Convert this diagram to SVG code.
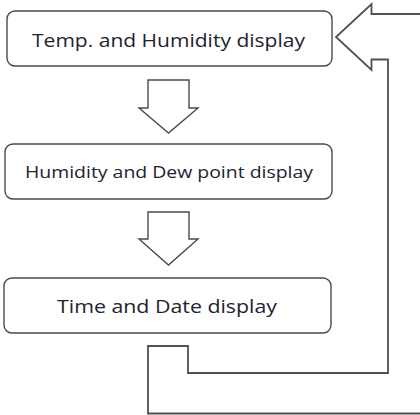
<svg xmlns="http://www.w3.org/2000/svg" width="420" height="415" viewBox="0 0 420 415">
<style>
.box{fill:#fff;stroke:#4a4a4a;stroke-width:1.4}
.lbl{font-family:"Open Sans","Liberation Sans",sans-serif;fill:#1e2230;text-anchor:middle}
.arr{fill:#fff;stroke:#4a4a4a;stroke-width:1.4;stroke-linejoin:miter}
.conn{fill:none;stroke:#505050;stroke-width:1.8}
</style>
<rect width="420" height="415" fill="#fff"/>
<g id="node-temp">
<rect class="box" x="7" y="11" width="325" height="55" rx="8"/>
<text class="lbl" x="168.5" y="47" font-size="19" textLength="273" lengthAdjust="spacingAndGlyphs">Temp. and Humidity display</text>
</g>
<g id="node-dew">
<rect class="box" x="5" y="144" width="327" height="55" rx="8"/>
<text class="lbl" x="169" y="178" font-size="16" textLength="288" lengthAdjust="spacingAndGlyphs">Humidity and Dew point display</text>
</g>
<g id="node-time">
<rect class="box" x="4" y="278" width="327" height="55" rx="8"/>
<text class="lbl" x="167" y="313" font-size="18" textLength="220" lengthAdjust="spacingAndGlyphs">Time and Date display</text>
</g>
<g id="connectors">
<path class="arr" d="M148 80 H189 V108 H198 L168.5 133 L139 108 H148 Z"/>
<path class="arr" d="M148 212 H189 V239 H198 L168.5 265 L139 239 H148 Z"/>
<path class="conn" d="M425 14 H371.5 V4 L336 37 L371.5 70 V59.5 H388 V373 H188 V346 H148 V413.5 H425"/>
</g>
</svg>
